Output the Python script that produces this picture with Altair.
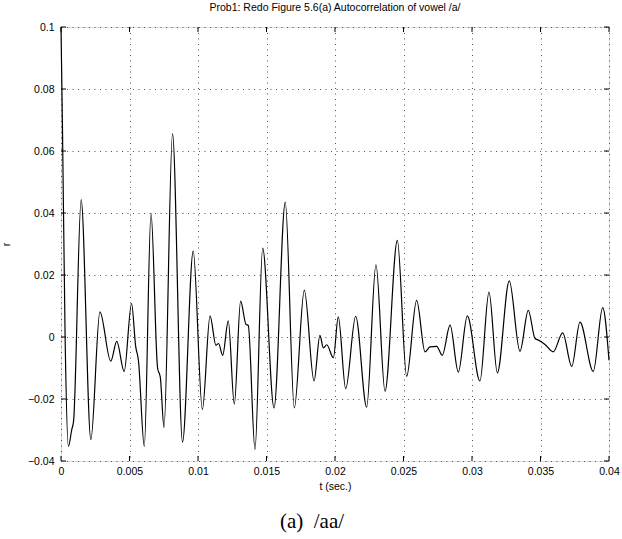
import altair as alt
import pandas as pd

# ---- data (t in seconds, r autocorrelation) ----
t_ms = [0.0, 0.1, 0.3, 0.54, 0.78, 0.92, 1.47, 2.18, 2.84, 3.63, 4.07, 4.61, 5.15,
        5.45, 5.65, 6.08, 6.57, 7.05, 7.25, 7.52, 8.14, 8.87, 9.65, 10.32, 10.88,
        11.31, 11.5, 11.8, 12.21, 12.65, 13.11, 13.5, 13.67, 14.16, 14.72, 15.55,
        16.37, 17.03, 17.76, 18.47, 18.9, 19.15, 19.4, 19.88, 20.24, 20.78, 21.51,
        22.31, 22.99, 23.65, 24.55, 25.23, 25.96, 26.57, 26.93, 27.42, 27.83, 28.4,
        29.0, 29.66, 30.58, 31.24, 31.85, 32.72, 33.5, 34.11, 34.6, 34.85, 35.33,
        35.93, 36.62, 37.28, 37.88, 38.85, 39.54, 40.0]
r_vals = [0.1, 0.07, 0.0, -0.0353, -0.030, -0.027, 0.0443, -0.0331, 0.0081, -0.0078,
          -0.0014, -0.0111, 0.0108, -0.003, -0.0075, -0.0353, 0.040, -0.010, -0.013,
          -0.0292, 0.0656, -0.0339, 0.0277, -0.0234, 0.0068, -0.0027, -0.0021, -0.0059,
          0.0052, -0.0217, 0.0116, 0.0041, 0.0037, -0.0363, 0.0287, -0.0229, 0.0435,
          -0.0229, 0.0151, -0.0142, 0.0005, -0.0035, -0.0025, -0.0067, 0.0065, -0.0167,
          0.0067, -0.0226, 0.0233, -0.0175, 0.0312, -0.0127, 0.0118, -0.0048, -0.0032,
          -0.003, -0.0059, 0.0038, -0.0113, 0.0068, -0.0142, 0.0145, -0.0116, 0.0181,
          -0.0046, 0.0086, -0.0005, -0.001, -0.0024, -0.0048, 0.0013, -0.0095, 0.0048,
          -0.0111, 0.0095, -0.0075]

x_ticks = [0, 0.005, 0.01, 0.015, 0.02, 0.025, 0.03, 0.035, 0.04]
y_ticks = [-0.04, -0.02, 0, 0.02, 0.04, 0.06, 0.08, 0.1]

title_text = "Prob1: Redo Figure 5.6(a) Autocorrelation of vowel /a/"
x_title = "t (sec.)"
y_title = "r"
caption = "(a)\u00a0\u00a0/aa/"

W, H = 548, 434
FONT = "Liberation Sans"

df = pd.DataFrame({"t": [v / 1000.0 for v in t_ms], "r": r_vals})
xt = pd.DataFrame({"t": x_ticks})
yt = pd.DataFrame({"r": y_ticks})

xscale = alt.Scale(domain=[0, 0.04], nice=False, zero=False)
yscale = alt.Scale(domain=[-0.04, 0.1], nice=False, zero=False)

GRID = dict(gridColor="#333333", gridOpacity=0.85, gridDash=[1, 4.5], gridWidth=1)

xaxis = alt.Axis(values=x_ticks, format="~g", grid=True, ticks=False, domain=False,
                 labelPadding=5, labelFont=FONT, labelFontSize=10.5, labelColor="black",
                 title=x_title, titleFont=FONT, titleFontSize=10.5, titleFontWeight="normal",
                 titleColor="black", titleY=20, titleBaseline="top", labelFlush=False, **GRID)
yaxis = alt.Axis(values=y_ticks, format="~g", grid=True, ticks=False, domain=False,
                 labelPadding=7, labelFont=FONT, labelFontSize=10.5, labelColor="black",
                 title=y_title, titleFont=FONT, titleFontSize=10.5, titleFontWeight="normal",
                 titleColor="black", titleX=-50, titleY=H / 2, titleAngle=-90,
                 labelFlush=False, **GRID)

line = alt.Chart(df).mark_line(color="black", strokeWidth=1.2, interpolate="monotone").encode(
    x=alt.X("t:Q", scale=xscale, axis=xaxis),
    y=alt.Y("r:Q", scale=yscale, axis=yaxis),
)

TL = 5
tick_bottom = alt.Chart(xt).mark_rule(color="black", strokeWidth=1).encode(
    x=alt.X("t:Q", scale=xscale), y=alt.value(H), y2=alt.value(H - TL))
tick_top = alt.Chart(xt).mark_rule(color="black", strokeWidth=1).encode(
    x=alt.X("t:Q", scale=xscale), y=alt.value(0), y2=alt.value(TL))
tick_left = alt.Chart(yt).mark_rule(color="black", strokeWidth=1).encode(
    y=alt.Y("r:Q", scale=yscale), x=alt.value(0), x2=alt.value(TL))
tick_right = alt.Chart(yt).mark_rule(color="black", strokeWidth=1).encode(
    y=alt.Y("r:Q", scale=yscale), x=alt.value(W), x2=alt.value(W - TL))

cap = alt.Chart(pd.DataFrame({"c": [caption]})).mark_text(
    font="Liberation Serif", fontSize=21, color="black", align="center", baseline="middle"
).encode(text="c:N", x=alt.value(251), y=alt.value(495))

chart = alt.layer(line, tick_bottom, tick_top, tick_left, tick_right, cap).properties(
    width=W, height=H,
    title=alt.TitleParams(title_text, font=FONT, fontSize=10.5, fontWeight="normal",
                          color="black", anchor="middle", offset=9),
    autosize=alt.AutoSizeParams(type="none"),
    padding={"left": 61, "top": 27, "right": 13, "bottom": 78},
).configure_view(stroke="black", strokeWidth=1).configure(background="white")

chart.save("out.html", embed_options={"renderer": "svg", "actions": False})
